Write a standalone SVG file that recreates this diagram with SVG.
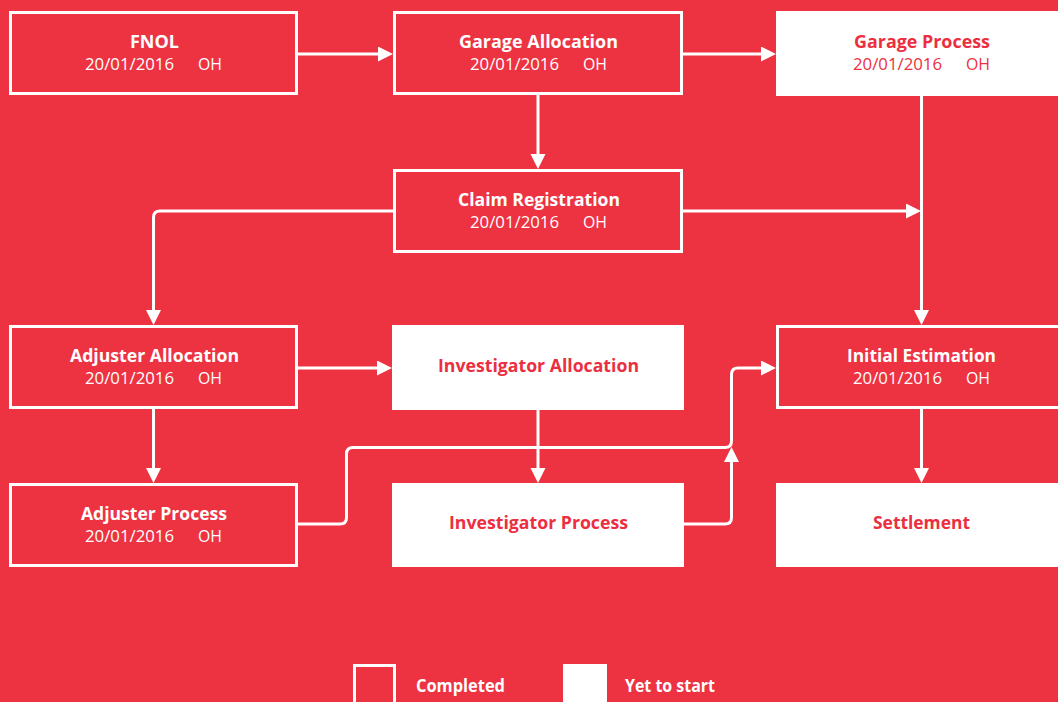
<svg xmlns="http://www.w3.org/2000/svg" width="1058" height="702" viewBox="0 0 1058 702">
<defs>
<style>
.bg{fill:#ED3242}
.done{fill:#ED3242;stroke:#FFFFFF;stroke-width:3}
.todo{fill:#FFFFFF;stroke:#FFFFFF;stroke-width:3}
.t{font-family:"Open Sans","Liberation Sans",sans-serif;font-size:17px;font-weight:700}
.d{font-family:"Open Sans","Liberation Sans",sans-serif;font-size:17px;font-weight:400}
.w{fill:#FFFFFF}
.r{fill:#EC2F40}
.c{text-anchor:middle}
.edge{fill:none;stroke:#FFFFFF;stroke-width:3}
</style>
<marker id="ah" markerUnits="userSpaceOnUse" markerWidth="16" markerHeight="16" refX="0" refY="7.5" orient="auto">
<path d="M0,0 L15,7.5 L0,15 Z" fill="#FFFFFF"/>
</marker>
</defs>
<rect class="bg" x="0" y="0" width="1058" height="702"/>

<g id="connectors">
<path class="edge" marker-end="url(#ah)" d="M298,54 H378"/>
<path class="edge" marker-end="url(#ah)" d="M683,54 H761"/>
<path class="edge" marker-end="url(#ah)" d="M538,95 V154"/>
<path class="edge" marker-end="url(#ah)" d="M921.5,96 V310"/>
<path class="edge" marker-end="url(#ah)" d="M683,211 H906"/>
<path class="edge" marker-end="url(#ah)" d="M393,211 H160 Q153.5,211 153.5,217.5 V310"/>
<path class="edge" marker-end="url(#ah)" d="M298,368 H377"/>
<path class="edge" marker-end="url(#ah)" d="M153.5,409 V468"/>
<path class="edge" marker-end="url(#ah)" d="M538,410 V468"/>
<path class="edge" marker-end="url(#ah)" d="M298,524 H340 Q346.5,524 346.5,517.5 V454 Q346.5,447.5 353,447.5 H725 Q731.5,447.5 731.5,441 V374.5 Q731.5,368 738,368 H761"/>
<path class="edge" marker-end="url(#ah)" d="M683,524 H725 Q731.5,524 731.5,517.5 V462"/>
<path class="edge" marker-end="url(#ah)" d="M921.5,409 V468"/>
</g>

<g id="fnol">
<rect class="done" x="10.5" y="12.5" width="286" height="81"/>
<text class="t w c" x="154.5" y="48" textLength="49" lengthAdjust="spacingAndGlyphs">FNOL</text>
<text class="d w" y="70"><tspan x="85" textLength="89" lengthAdjust="spacingAndGlyphs">20/01/2016</tspan><tspan x="198" textLength="24" lengthAdjust="spacingAndGlyphs">OH</tspan></text>
</g>

<g id="garage-allocation">
<rect class="done" x="394.5" y="12.5" width="287" height="81"/>
<text class="t w c" x="538.5" y="48" textLength="159" lengthAdjust="spacingAndGlyphs">Garage Allocation</text>
<text class="d w" y="70"><tspan x="470" textLength="89" lengthAdjust="spacingAndGlyphs">20/01/2016</tspan><tspan x="583" textLength="24" lengthAdjust="spacingAndGlyphs">OH</tspan></text>
</g>

<g id="garage-process">
<rect class="todo" x="777.5" y="12.5" width="288" height="82"/>
<text class="t r c" x="922" y="48" textLength="136" lengthAdjust="spacingAndGlyphs">Garage Process</text>
<text class="d r" y="70"><tspan x="853" textLength="89" lengthAdjust="spacingAndGlyphs">20/01/2016</tspan><tspan x="966" textLength="24" lengthAdjust="spacingAndGlyphs">OH</tspan></text>
</g>

<g id="claim-registration">
<rect class="done" x="394.5" y="170.5" width="287" height="81"/>
<text class="t w c" x="539" y="206" textLength="162" lengthAdjust="spacingAndGlyphs">Claim Registration</text>
<text class="d w" y="228"><tspan x="470" textLength="89" lengthAdjust="spacingAndGlyphs">20/01/2016</tspan><tspan x="583" textLength="24" lengthAdjust="spacingAndGlyphs">OH</tspan></text>
</g>

<g id="adjuster-allocation">
<rect class="done" x="10.5" y="326.5" width="286" height="81"/>
<text class="t w c" x="154.5" y="362" textLength="169" lengthAdjust="spacingAndGlyphs">Adjuster Allocation</text>
<text class="d w" y="384"><tspan x="85" textLength="89" lengthAdjust="spacingAndGlyphs">20/01/2016</tspan><tspan x="198" textLength="24" lengthAdjust="spacingAndGlyphs">OH</tspan></text>
</g>

<g id="investigator-allocation">
<rect class="todo" x="393.5" y="326.5" width="289" height="82"/>
<text class="t r c" x="538.5" y="372" textLength="201" lengthAdjust="spacingAndGlyphs">Investigator Allocation</text>
</g>

<g id="initial-estimation">
<rect class="done" x="777.5" y="326.5" width="288" height="81"/>
<text class="t w c" x="921.5" y="362" textLength="149" lengthAdjust="spacingAndGlyphs">Initial Estimation</text>
<text class="d w" y="384"><tspan x="853" textLength="89" lengthAdjust="spacingAndGlyphs">20/01/2016</tspan><tspan x="966" textLength="24" lengthAdjust="spacingAndGlyphs">OH</tspan></text>
</g>

<g id="adjuster-process">
<rect class="done" x="10.5" y="484.5" width="286" height="81"/>
<text class="t w c" x="154" y="520" textLength="146" lengthAdjust="spacingAndGlyphs">Adjuster Process</text>
<text class="d w" y="542"><tspan x="85" textLength="89" lengthAdjust="spacingAndGlyphs">20/01/2016</tspan><tspan x="198" textLength="24" lengthAdjust="spacingAndGlyphs">OH</tspan></text>
</g>

<g id="investigator-process">
<rect class="todo" x="393.5" y="484.5" width="289" height="81"/>
<text class="t r c" x="538.5" y="529" textLength="179" lengthAdjust="spacingAndGlyphs">Investigator Process</text>
</g>

<g id="settlement">
<rect class="todo" x="777.5" y="484.5" width="288" height="81"/>
<text class="t r c" x="921.5" y="529" textLength="97" lengthAdjust="spacingAndGlyphs">Settlement</text>
</g>

<g id="legend">
<rect class="done" x="354.5" y="665.5" width="40" height="50"/>
<text class="t w" x="416" y="692" textLength="89" lengthAdjust="spacingAndGlyphs">Completed</text>
<rect class="todo" x="564.5" y="665.5" width="41" height="50"/>
<text class="t w" x="625" y="692" textLength="90" lengthAdjust="spacingAndGlyphs">Yet to start</text>
</g>
</svg>
